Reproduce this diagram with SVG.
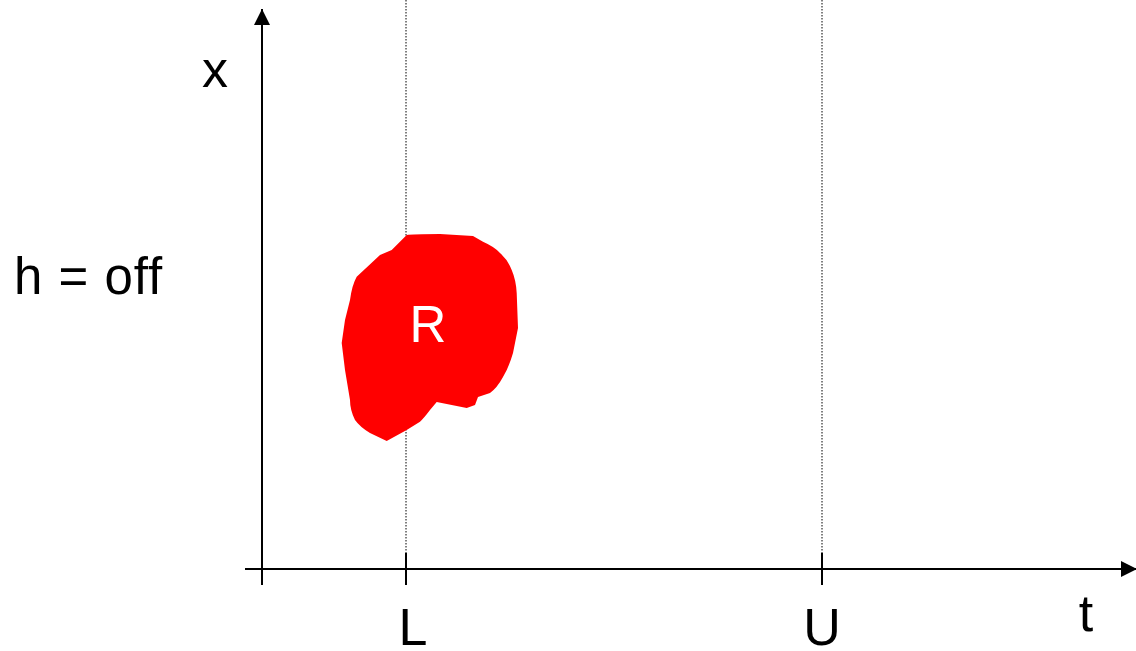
<svg xmlns="http://www.w3.org/2000/svg" width="1136" height="651" viewBox="0 0 1136 651">
<style>
.axis{stroke:#000;stroke-width:2;fill:none}
.dot{stroke:#000;stroke-width:1;stroke-dasharray:1.5 1.5;fill:none}
.lbl{font-family:"Liberation Sans",Arial,sans-serif;fill:#000;font-size:52px;font-variant-ligatures:none;font-feature-settings:"liga" 0}
</style>
<defs>
<marker id="arr" viewBox="0 0 16 16" refX="16" refY="8" markerWidth="16" markerHeight="16" markerUnits="userSpaceOnUse" orient="auto">
<path d="M0,0 L16,8 L0,16 Z" fill="#000"/>
</marker>
</defs>
<g id="connectors">
<line class="dot" x1="406" y1="0" x2="406" y2="553"/>
<line class="dot" x1="822" y1="0" x2="822" y2="553"/>
<line class="axis" x1="262" y1="585" x2="262" y2="9" marker-end="url(#arr)"/>
<line class="axis" x1="245" y1="569" x2="1137" y2="569" marker-end="url(#arr)"/>
<line class="axis" x1="406" y1="553" x2="406" y2="585"/>
<line class="axis" x1="822" y1="553" x2="822" y2="585"/>
</g>
<g id="region-R">
<path fill="#ff0000" d="M406.7,235 Q412,234 440,234 L473,236 L483,241.7 Q495,247 500,253 Q508,260 511.7,270 Q516,280 516.7,293 L518,328 L513,353 Q509,367 503,377 Q497,388 490,393 L478,397 L475,405 L466.7,408 L436.7,402 L430,410 Q424,418 420,421.7 L406.7,430 L386.7,441 L370,433 Q360,427 355,420 Q350,410 350,400 L345,370 L341.7,343 L345,320 L350,300 Q352,285 356.7,276.7 L380,255 L391.7,250 Z"/>
<text x="428" y="342" text-anchor="middle" font-family="Liberation Sans,Arial,sans-serif" font-size="51" fill="#fff">R</text>
</g>
<g id="labels">
<text class="lbl" x="215" y="87" text-anchor="middle">x</text>
<text class="lbl" x="14" y="294" style="font-size:51px;letter-spacing:1px">h = off</text>
<text class="lbl" x="413" y="645" text-anchor="middle">L</text>
<text class="lbl" x="822" y="645" text-anchor="middle">U</text>
<text class="lbl" x="1086" y="631" text-anchor="middle">t</text>
</g>
</svg>
